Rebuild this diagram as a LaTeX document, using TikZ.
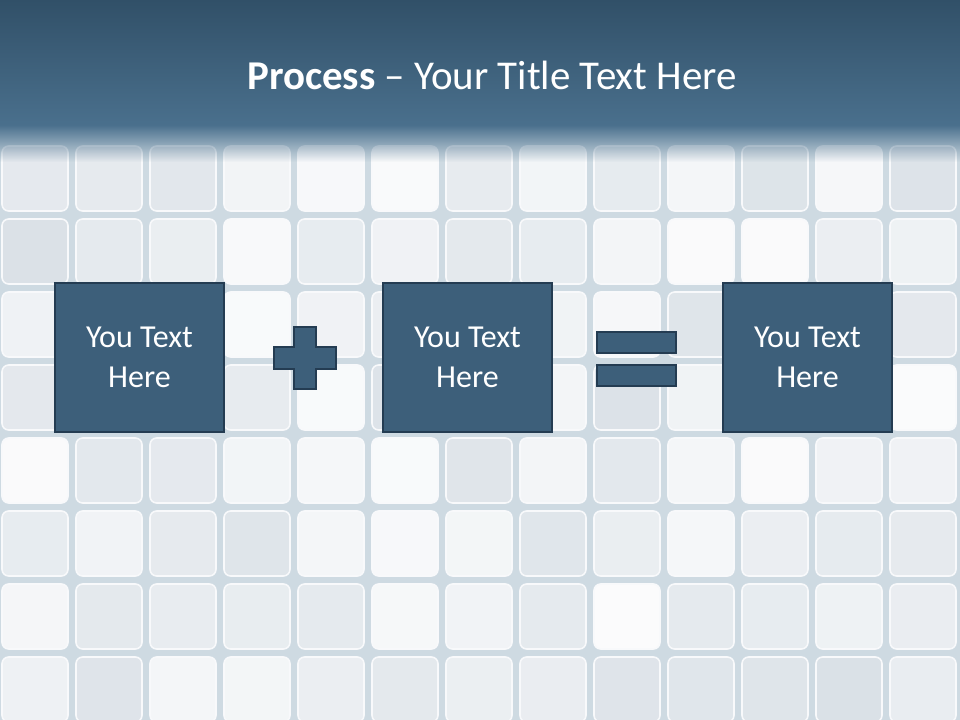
\documentclass[tikz,border=0pt]{standalone}
\usepackage{fontspec}
\setmainfont{Carlito}
\usetikzlibrary{positioning, fadings, calc}
\definecolor{boxblue}{RGB}{61,95,122}
\definecolor{boxedge}{RGB}{36,60,82}
\definecolor{bartop}{RGB}{49,80,104}
\definecolor{barbot}{RGB}{74,112,141}
\definecolor{gapcolor}{RGB}{206,218,226}
\definecolor{tilebase}{RGB}{200,210,219}
\begin{document}
\begin{tikzpicture}[
    x=0.75pt, y=-0.75pt,
    stepbox/.style={draw=boxedge, line width=1.5pt, fill=boxblue, minimum width=126.75pt,
                    minimum height=111.75pt, inner sep=0pt, align=center, text=white,
                    font=\fontsize{24}{30}\selectfont},
    eqbar/.style={draw=boxedge, line width=1.5pt, fill=boxblue, minimum width=59.25pt,
                  minimum height=15.75pt, inner sep=0pt},
    titletext/.style={text=white, font=\fontsize{30.7}{36}\selectfont},
    tile/.style={rounded corners=5pt, draw=white!85!gapcolor, line width=1.2pt}
  ]
  \useasboundingbox (0,0) rectangle (960,720);
  % Background tiles
  \fill[gapcolor] (0,0) rectangle (960,720);
  \pgfmathsetseed{11}
  \foreach \i in {0,...,12}
    \foreach \j in {0,...,8} {
      \pgfmathsetmacro\tl{int(8+62*rnd)}
      \fill[tile, fill=tilebase!\tl!white]
        (-2+74*\i+4, 142+73*\j+4) rectangle (-2+74*\i+70, 142+73*\j+69);
    }
  % Title bar
  \shade[top color=bartop, bottom color=barbot] (0,0) rectangle (960,126);
  \fill[barbot, path fading=south] (0,125) rectangle (960,162);
  \node[titletext] (title) at (492,75) {\textbf{Process} -- Your Title Text Here};
  % Boxes
  \node[stepbox] (box1) at (139.5,357.5) {You Text\\Here};
  \node[stepbox, right=117.75pt of box1] (box2) {You Text\\Here};
  \node[stepbox, right=126.75pt of box2] (box3) {You Text\\Here};
  % Plus
  \coordinate (plus) at (304.5,358);
  \draw[draw=boxedge, line width=1.5pt, fill=boxblue]
    ($(plus)+(-11,-31)$) -- ++(22,0) -- ++(0,20) -- ++(20,0) -- ++(0,22) -- ++(-20,0)
    -- ++(0,20) -- ++(-22,0) -- ++(0,-20) -- ++(-20,0) -- ++(0,-22) -- ++(20,0) -- cycle;
  % Equals
  \node[eqbar] (eqtop) at (636.5,342.5) {};
  \node[eqbar, below=7.5pt of eqtop] (eqbot) {};
\end{tikzpicture}
\end{document}
